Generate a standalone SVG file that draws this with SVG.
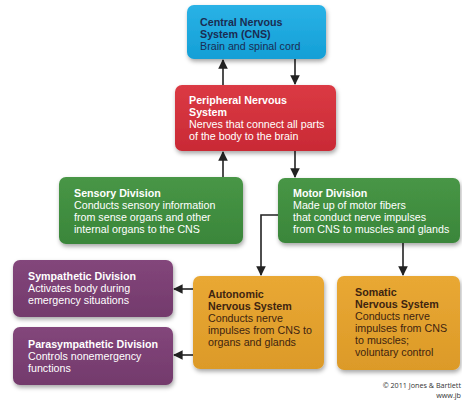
<svg xmlns="http://www.w3.org/2000/svg" width="462" height="401" viewBox="0 0 462 401">
<defs>
<filter id="sh" x="-10%" y="-10%" width="125%" height="135%">
<feDropShadow dx="1" dy="2.5" stdDeviation="2" flood-color="#000" flood-opacity="0.35"/>
</filter>
<linearGradient id="gBlue" x1="0" y1="0" x2="0" y2="1"><stop offset="0" stop-color="#2ab2e6"/><stop offset="1" stop-color="#149fd6"/></linearGradient>
<linearGradient id="gRed" x1="0" y1="0" x2="0" y2="1"><stop offset="0" stop-color="#db3a44"/><stop offset="1" stop-color="#c92a35"/></linearGradient>
<linearGradient id="gGreen" x1="0" y1="0" x2="0" y2="1"><stop offset="0" stop-color="#489646"/><stop offset="1" stop-color="#3a863a"/></linearGradient>
<linearGradient id="gPurple" x1="0" y1="0" x2="0" y2="1"><stop offset="0" stop-color="#83467b"/><stop offset="1" stop-color="#733a6c"/></linearGradient>
<linearGradient id="gOrange" x1="0" y1="0" x2="0" y2="1"><stop offset="0" stop-color="#e9a834"/><stop offset="1" stop-color="#dc9a28"/></linearGradient>
<marker id="ah" viewBox="0 0 10 10" refX="9" refY="5" markerWidth="6" markerHeight="6" orient="auto">
<path d="M0,0 L10,5 L0,10 z" fill="#222"/>
</marker>
<style>
.box{filter:url(#sh);}
text{font-family:"Liberation Sans",Arial,sans-serif;font-size:10.7px;}
.b{font-weight:bold;}
.w{fill:#fff;}
.dk{fill:#1b2c52;}
.br{fill:#3e2410;}
.cn{fill:none;stroke:#222;stroke-width:1.6;marker-end:url(#ah);}
.cp{font-family:"Open Sans","Liberation Sans",sans-serif;font-size:7.2px;fill:#333;text-anchor:end;}
</style>
</defs>

<g id="connectors">
<line class="cn" x1="223" y1="85" x2="223" y2="60"/>
<line class="cn" x1="295" y1="59" x2="295" y2="84"/>
<line class="cn" x1="223" y1="177" x2="223" y2="152"/>
<line class="cn" x1="295" y1="151" x2="295" y2="177"/>
<polyline class="cn" points="278,215 261,215 261,275"/>
<line class="cn" x1="403" y1="243" x2="403" y2="275"/>
<line class="cn" x1="193" y1="289" x2="174" y2="289"/>
<line class="cn" x1="193" y1="355" x2="174" y2="355"/>
</g>

<g id="cns">
<rect class="box" x="187" y="5" width="139" height="54" rx="7" fill="url(#gBlue)"/>
<text x="200" y="26" class="b dk">Central Nervous</text>
<text x="200" y="38" class="b dk">System (CNS)</text>
<text x="200" y="50" class="dk">Brain and spinal cord</text>
</g>

<g id="pns">
<rect class="box" x="175" y="85" width="161" height="66" rx="7" fill="url(#gRed)"/>
<text x="189" y="104" class="b w">Peripheral Nervous</text>
<text x="189" y="116" class="b w">System</text>
<text x="189" y="128" class="w">Nerves that connect all parts</text>
<text x="189" y="140" class="w">of the body to the brain</text>
</g>

<g id="sensory">
<rect class="box" x="59" y="177" width="184" height="67" rx="7" fill="url(#gGreen)"/>
<text x="74" y="197" class="b w">Sensory Division</text>
<text x="74" y="209" class="w">Conducts sensory information</text>
<text x="74" y="221" class="w">from sense organs and other</text>
<text x="74" y="233" class="w">internal organs to the CNS</text>
</g>

<g id="motor">
<rect class="box" x="278" y="178" width="182" height="65" rx="7" fill="url(#gGreen)"/>
<text x="293" y="197" class="b w">Motor Division</text>
<text x="293" y="209" class="w">Made up of motor fibers</text>
<text x="293" y="221" class="w">that conduct nerve impulses</text>
<text x="293" y="233" class="w">from CNS to muscles and glands</text>
</g>

<g id="sympathetic">
<rect class="box" x="13" y="260" width="160" height="57" rx="7" fill="url(#gPurple)"/>
<text x="28" y="280" class="b w">Sympathetic Division</text>
<text x="28" y="292" class="w">Activates body during</text>
<text x="28" y="304" class="w">emergency situations</text>
</g>

<g id="parasympathetic">
<rect class="box" x="13" y="327" width="160" height="58" rx="7" fill="url(#gPurple)"/>
<text x="28" y="348" class="b w">Parasympathetic Division</text>
<text x="28" y="360" class="w">Controls nonemergency</text>
<text x="28" y="372" class="w">functions</text>
</g>

<g id="autonomic">
<rect class="box" x="193" y="276" width="131" height="93" rx="7" fill="url(#gOrange)"/>
<text x="208" y="298" class="b br">Autonomic</text>
<text x="208" y="310" class="b br">Nervous System</text>
<text x="208" y="322" class="br">Conducts nerve</text>
<text x="208" y="334" class="br">impulses from CNS to</text>
<text x="208" y="346" class="br">organs and glands</text>
</g>

<g id="somatic">
<rect class="box" x="337" y="276" width="123" height="94" rx="7" fill="url(#gOrange)"/>
<text x="355" y="296" class="b br">Somatic</text>
<text x="355" y="308" class="b br">Nervous System</text>
<text x="355" y="320" class="br">Conducts nerve</text>
<text x="355" y="332" class="br">impulses from CNS</text>
<text x="355" y="344" class="br">to muscles;</text>
<text x="355" y="356" class="br">voluntary control</text>
</g>

<g id="credit">
<text x="461" y="388" class="cp">© 2011 Jones &amp; Bartlett</text>
<text x="461" y="398" class="cp">www.jb</text>
</g>
</svg>
